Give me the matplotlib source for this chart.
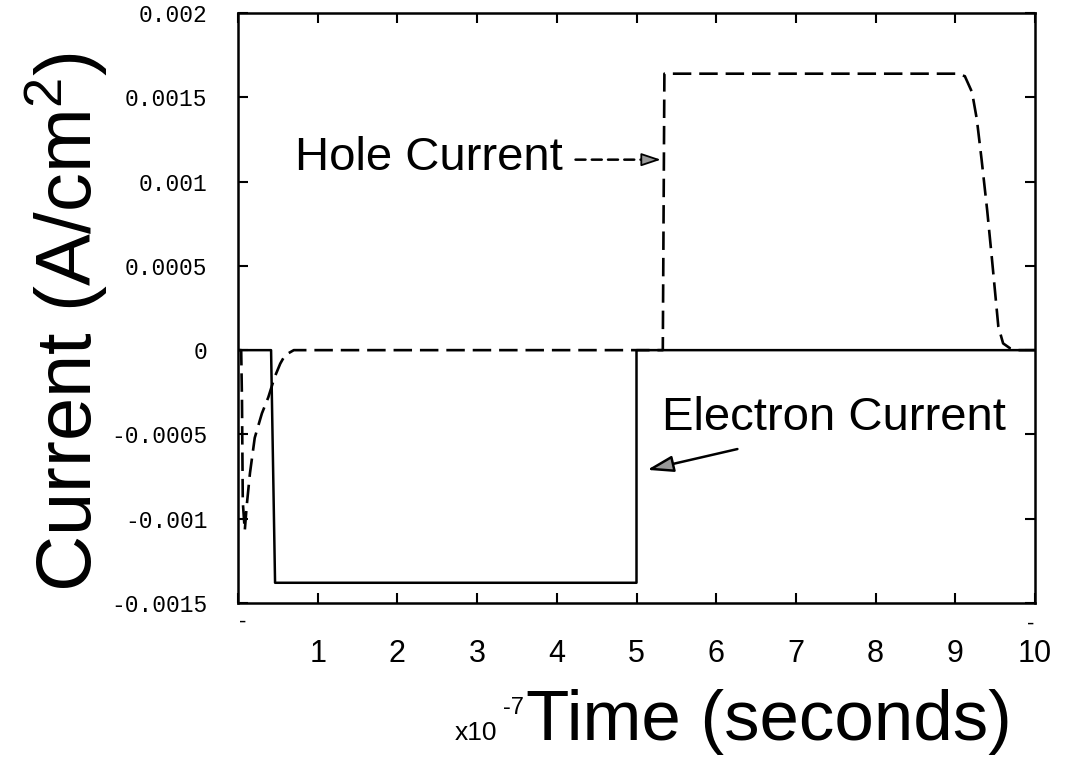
import numpy as np
import matplotlib
matplotlib.use('Agg')
import matplotlib.pyplot as plt
import matplotlib.transforms as mtransforms

plt.rcParams['font.family'] = 'Liberation Sans'
plt.rcParams['mathtext.fontset'] = 'custom'
plt.rcParams['mathtext.rm'] = 'Liberation Sans'
plt.rcParams['mathtext.it'] = 'Liberation Sans'

# time in units of 1e-7 s
t_elec = [0, 0.415, 0.465, 5.0, 5.0, 10]
i_elec = [0, 0, -0.00138, -0.00138, 0, 0]

t_hole = [0, 0.04, 0.05, 0.06, 0.085, 0.11, 0.15, 0.21, 0.30, 0.38, 0.46, 0.53, 0.59, 0.7,
          5.33, 5.35, 9.02, 9.12, 9.21, 9.27, 9.33, 9.40, 9.46, 9.50, 9.54, 9.60, 9.69, 9.77, 10]
i_hole = [0, 0, -0.0003, -0.0009, -0.00107, -0.00092, -0.00073, -0.00052, -0.000375, -0.00028,
          -0.00016, -0.00008, -0.00003, 0,
          0, 0.00164, 0.00164, 0.001625, 0.00153, 0.00137, 0.00113, 0.00083, 0.00054, 0.00034,
          0.00014, 0.00004, 0.00001, 0, 0]

xticks = list(range(0, 11))
xticklabels = [''] + [str(k) for k in range(1, 11)]
yticks = [0.002, 0.0015, 0.001, 0.0005, 0, -0.0005, -0.001, -0.0015]
yticklabels = ['0.002', '0.0015', '0.001', '0.0005', '0', '-0.0005', '-0.001', '-0.0015']

fig = plt.figure(figsize=(10.66, 7.58), dpi=100)
ax = fig.add_axes([238/1066, 1 - 603/758, (1035 - 238)/1066, (603 - 13)/758])

ax.plot(t_elec, i_elec, color='k', lw=1.8)
ax.plot(t_hole, i_hole, color='k', lw=1.9, linestyle=(0, (7, 3)))

ax.set_xlim(0, 10)
ax.set_ylim(-0.0015, 0.002)

ax.set_xticks(xticks)
ax.set_xticklabels(xticklabels, fontsize=22)
ax.set_yticks(yticks)
ax.set_yticklabels(yticklabels, fontsize=16.5, family='Liberation Mono')
ax.tick_params(direction='in', length=7, width=1.5, top=True, right=True)
ax.tick_params(axis='x', pad=26)
ax.tick_params(axis='y', pad=22)
for s in ax.spines.values():
    s.set_linewidth(1.8)

# stray dash marks under the axis ends
trans = mtransforms.blended_transform_factory(ax.transData, fig.transFigure)
ax.text(0.06, 1 - 622/758, '-', transform=trans, ha='center', va='center', fontsize=16)
ax.text(9.95, 1 - 624/758, '-', transform=trans, ha='center', va='center', fontsize=16)

# annotations
ax.text(0.72, 0.00114, 'Hole Current', fontsize=34, ha='left', va='center')
ax.annotate('', xy=(5.12, 0.00113), xytext=(4.2, 0.00113),
            arrowprops=dict(arrowstyle='-', linestyle=(0, (4, 2.5)), color='k', lw=1.8))
ax.annotate('', xy=(5.34, 0.00113), xytext=(5.05, 0.00113),
            arrowprops=dict(arrowstyle='-|>,head_length=1.2,head_width=0.4',
                            fc='0.6', ec='k', lw=1.3))

ax.text(5.32, -0.000405, 'Electron Current', fontsize=34, ha='left', va='center')
ax.annotate('', xy=(5.1, -0.000714), xytext=(6.3, -0.000583),
            arrowprops=dict(arrowstyle='-|>,head_length=1.6,head_width=0.5',
                            fc='0.6', ec='k', lw=1.8))

# axis titles
fig.text(66/1066, 1 - 322/758, 'Current (A/cm$^{2}$)', rotation=90, fontsize=56,
         ha='center', va='center')
fig.text(526/1066, 1 - 740/758, 'Time (seconds)', fontsize=51, ha='left', va='baseline')
fig.text(455/1066, 1 - 740/758, 'x10', fontsize=19, ha='left', va='baseline')
fig.text(503/1066, 1 - 714/758, '-7', fontsize=17, ha='left', va='baseline')

plt.savefig('out.png', dpi=100)
